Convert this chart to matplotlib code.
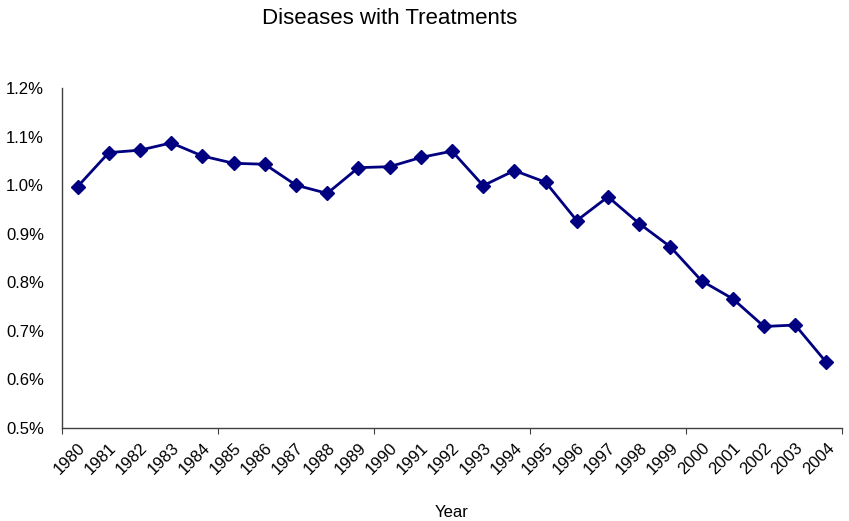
import matplotlib.pyplot as plt
from matplotlib.ticker import FuncFormatter

plt.rcParams['font.family'] = ['Liberation Sans', 'DejaVu Sans']

# Share of diseases with treatments, per year (%)
years = list(range(1980, 2005))
share = [0.997, 1.067, 1.072, 1.087, 1.060, 1.045, 1.043, 1.000, 0.983, 1.036,
         1.038, 1.057, 1.070, 0.999, 1.030, 1.006, 0.927, 0.976, 0.921, 0.873,
         0.803, 0.766, 0.709, 0.712, 0.635]

fig = plt.figure(figsize=(8.49, 5.21), dpi=100)
ax = fig.add_axes([62 / 849, 1 - 428 / 521, 780 / 849, 340 / 521])

x = list(range(len(years)))
ax.plot(x, share, color='#000080', linewidth=2.0, marker='D', markersize=7,
        markerfacecolor='#000080', markeredgecolor='#000080')

ax.set_xlim(-0.5, len(years) - 0.5)
ax.set_ylim(0.5, 1.2)
ax.set_yticks([0.5, 0.6, 0.7, 0.8, 0.9, 1.0, 1.1, 1.2])
ax.yaxis.set_major_formatter(FuncFormatter(lambda v, p: f"{v:.1f}%"))
ax.tick_params(axis='y', length=0, labelsize=12, pad=13)

# major ticks at category boundaries every 5 years, labels on each category
ax.set_xticks([-0.5 + 5 * i for i in range(6)])
ax.set_xticklabels([])
ax.tick_params(axis='x', which='major', direction='out', length=4, color='#404040')
ax.set_xticks(x, minor=True)
ax.set_xticklabels([str(y) for y in years], minor=True, rotation=45,
                   ha='right', rotation_mode='anchor', fontsize=12)
ax.tick_params(axis='x', which='minor', length=0, pad=9)

for side in ['top', 'right']:
    ax.spines[side].set_visible(False)
for side in ['left', 'bottom']:
    ax.spines[side].set_color('#404040')
    ax.spines[side].set_linewidth(1.0)

ax.set_xlabel("Year", fontsize=12)
ax.xaxis.set_label_coords(452 / 849, 1 - 505 / 521, transform=fig.transFigure)
fig.text(390 / 849, 1 - 18 / 521, "Diseases with Treatments", ha='center', va='center',
         fontsize=16)

fig.savefig("out.png", dpi=100)
